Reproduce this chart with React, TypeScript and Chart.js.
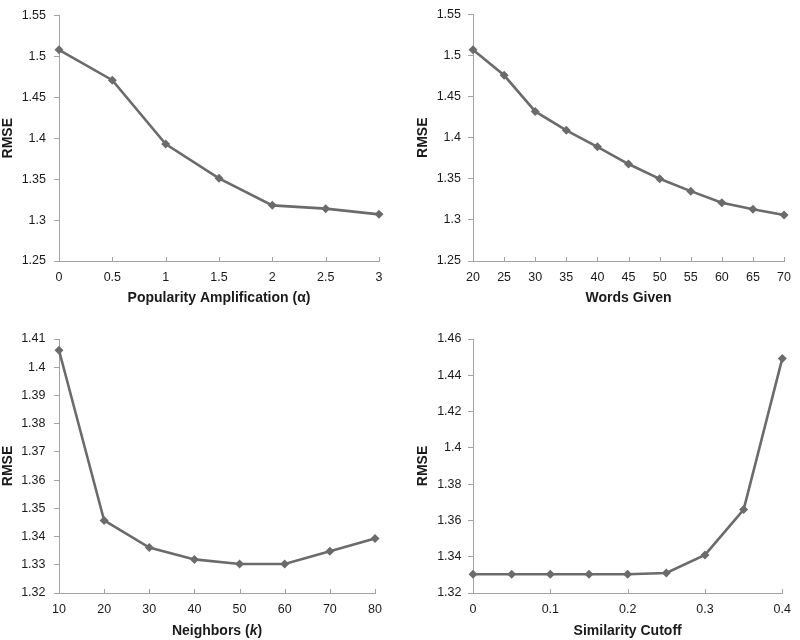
import React, { useEffect, useRef } from 'react';
import { Chart, registerables } from 'chart.js';

Chart.register(...registerables);

// ---- Data ----
const alphaX = [0, 0.5, 1, 1.5, 2, 2.5, 3];
const alphaRmse = [1.508, 1.471, 1.393, 1.351, 1.318, 1.314, 1.307];

const wordsX = [20, 25, 30, 35, 40, 45, 50, 55, 60, 65, 70];
const wordsRmse = [1.507, 1.476, 1.432, 1.409, 1.389, 1.368, 1.35, 1.335, 1.321, 1.313, 1.306];

const neighborsX = [10, 20, 30, 40, 50, 60, 70, 80];
const neighborsRmse = [1.406, 1.3457, 1.3361, 1.3319, 1.3303, 1.3303, 1.3348, 1.3393];

const cutoffX = [0, 0.05, 0.1, 0.15, 0.2, 0.25, 0.3, 0.35, 0.4];
const cutoffRmse = [1.3303, 1.3303, 1.3303, 1.3303, 1.3303, 1.331, 1.341, 1.366, 1.4493];

const yTitle = 'RMSE';
const xTitles = ['Popularity Amplification (α)', 'Words Given', 'Neighbors (k)', 'Similarity Cutoff'];

const LINE = '#6b6b6b';
const AXIS = '#a3a3a3';
const TEXT = '#1a1a1a';
const FONT = '"Liberation Sans", Arial, Helvetica, sans-serif';

type TitleSeg = { text: string; italic?: boolean };

type PanelCfg = {
  left: number; top: number;
  areaLeft: number; areaRight: number; areaTop: number; areaBottom: number;
  xs: number[]; ys: number[];
  xMin: number; xMax: number; xStep: number;
  yMin: number; yMax: number; yStep: number;
  xTitle: string; xTitleSegs?: TitleSeg[]; xTitlePad: number;
  yTitlePad: number; yLabelPad: number;
};

const fmt = (v: number | string) => String(parseFloat(Number(v).toFixed(4)));

const innerTicks = {
  id: 'innerTicks',
  beforeDatasetsDraw(chart: any) {
    const x = chart.scales.x;
    const ctx = chart.ctx;
    ctx.save();
    ctx.strokeStyle = AXIS;
    ctx.lineWidth = 1;
    x.ticks.forEach((t: any) => {
      const px = Math.round(x.getPixelForValue(t.value)) + 0.5;
      ctx.beginPath();
      ctx.moveTo(px, x.top);
      ctx.lineTo(px, x.top - 4);
      ctx.stroke();
    });
    ctx.restore();
  },
};

function Panel({ cfg }: { cfg: PanelCfg }) {
  const ref = useRef<HTMLCanvasElement>(null);
  useEffect(() => {
    if (!ref.current) return;
    const W = 400, H = 320;
    const segPlugin = {
      id: 'segTitle',
      afterDraw(chart: any) {
        if (!cfg.xTitleSegs) return;
        const ctx = chart.ctx;
        const ca = chart.chartArea;
        const size = 14;
        const fonts = cfg.xTitleSegs.map(s => `${s.italic ? 'italic ' : ''}bold ${size}px ${FONT}`);
        ctx.save();
        let total = 0;
        const widths = cfg.xTitleSegs.map((s, i) => { ctx.font = fonts[i]; const w = ctx.measureText(s.text).width; total += w; return w; });
        let x = (ca.left + ca.right) / 2 - total / 2;
        const y = H - (size * 1.2) / 2 - cfg.xTitlePad;
        ctx.fillStyle = TEXT;
        ctx.textBaseline = 'middle';
        ctx.textAlign = 'left';
        cfg.xTitleSegs.forEach((s, i) => { ctx.font = fonts[i]; ctx.fillText(s.text, x, y); x += widths[i]; });
        ctx.restore();
      },
    };
    const chart = new Chart(ref.current, {
      type: 'line',
      data: {
        datasets: [{
          data: cfg.xs.map((x, i) => ({ x, y: cfg.ys[i] })),
          borderColor: LINE,
          backgroundColor: LINE,
          borderWidth: 2.6,
          pointStyle: 'rectRot',
          pointRadius: 4.5,
          pointBorderWidth: 0,
          pointBackgroundColor: LINE,
          tension: 0,
          clip: false as any,
        }],
      },
      options: {
        animation: false,
        responsive: false,
        events: [],
        layout: { padding: { left: 0, top: cfg.areaTop, right: W - cfg.areaRight, bottom: 0 } },
        plugins: { legend: { display: false }, tooltip: { enabled: false } },
        scales: {
          x: {
            type: 'linear',
            min: cfg.xMin, max: cfg.xMax,
            afterFit: (s: any) => { s.height = H - cfg.areaBottom; },
            grid: { drawOnChartArea: false, drawTicks: false },
            border: { color: AXIS, width: 1 },
            ticks: { stepSize: cfg.xStep, padding: 9, color: TEXT, font: { family: FONT, size: 12.5 }, callback: (v: any) => fmt(v), maxRotation: 0, autoSkip: false },
            title: { display: !cfg.xTitleSegs, text: cfg.xTitle, color: TEXT, font: { family: FONT, size: 14, weight: 'bold' }, padding: { top: 0, bottom: cfg.xTitlePad } },
          },
          y: {
            type: 'linear',
            min: cfg.yMin, max: cfg.yMax,
            afterFit: (s: any) => { s.width = cfg.areaLeft; },
            grid: { drawOnChartArea: false, drawTicks: true, tickLength: 5, color: AXIS },
            border: { color: AXIS, width: 1 },
            ticks: { stepSize: cfg.yStep, padding: cfg.yLabelPad, color: TEXT, font: { family: FONT, size: 12.5 }, callback: (v: any) => fmt(v) },
            title: { display: true, text: yTitle, color: TEXT, font: { family: FONT, size: 14, weight: 'bold' }, padding: { top: cfg.yTitlePad, bottom: 0 } },
          },
        },
      } as any,
      plugins: [innerTicks, segPlugin],
    });
    return () => chart.destroy();
  }, [cfg]);
  return (
    <div style={{ position: 'absolute', left: cfg.left, top: cfg.top, width: 400, height: 320 }}>
      <canvas ref={ref} width={400} height={320} style={{ display: 'block' }} />
    </div>
  );
}

const panels: PanelCfg[] = [
  {
    left: 0, top: 0, areaLeft: 59, areaRight: 379, areaTop: 7, areaBottom: 261,
    xs: alphaX, ys: alphaRmse, xMin: 0, xMax: 3, xStep: 0.5, yMin: 1.25, yMax: 1.55, yStep: 0.05,
    xTitle: xTitles[0], xTitlePad: 13.5, yTitlePad: 0, yLabelPad: 8,
  },
  {
    left: 400, top: 0, areaLeft: 73, areaRight: 390, areaTop: 7, areaBottom: 261,
    xs: wordsX, ys: wordsRmse, xMin: 20, xMax: 70, xStep: 5, yMin: 1.25, yMax: 1.55, yStep: 0.05,
    xTitle: xTitles[1], xTitlePad: 13.5, yTitlePad: 14.5, yLabelPad: 7,
  },
  {
    left: 0, top: 320, areaLeft: 59, areaRight: 375, areaTop: 19, areaBottom: 273,
    xs: neighborsX, ys: neighborsRmse, xMin: 10, xMax: 80, xStep: 10, yMin: 1.32, yMax: 1.41, yStep: 0.01,
    xTitle: xTitles[2], xTitleSegs: [{ text: 'Neighbors (' }, { text: 'k', italic: true }, { text: ')' }],
    xTitlePad: 0, yTitlePad: 0, yLabelPad: 8.5,
  },
  {
    left: 400, top: 320, areaLeft: 73, areaRight: 388, areaTop: 19, areaBottom: 273,
    xs: cutoffX, ys: cutoffRmse, xMin: 0, xMax: 0.4, xStep: 0.1, yMin: 1.32, yMax: 1.46, yStep: 0.02,
    xTitle: xTitles[3], xTitlePad: 0, yTitlePad: 14.5, yLabelPad: 6.5,
  },
];

export default function App() {
  return (
    <div style={{ position: 'fixed', left: 0, top: 0, width: 800, height: 640, background: '#ffffff' }}>
      {panels.map((p, i) => <Panel key={i} cfg={p} />)}
    </div>
  );
}
